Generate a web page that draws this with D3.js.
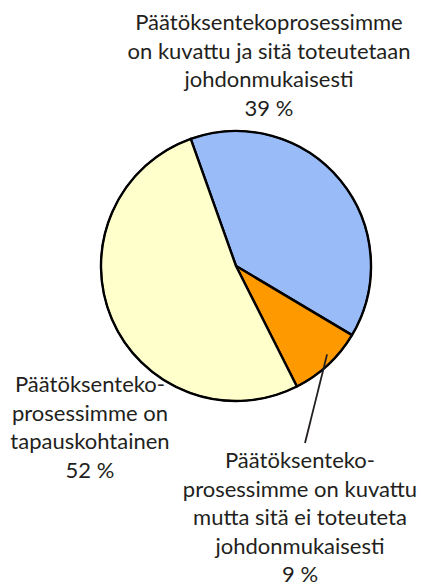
<!DOCTYPE html>
<html>
<head>
<meta charset="utf-8">
<script src="https://cdn.jsdelivr.net/npm/d3@7"></script>
<style>
  body { margin: 0; background: #fff; }
  svg text { font-family: Lato, "Open Sans", sans-serif; fill: #231f20; }
</style>
</head>
<body>
<div id="chart"></div>
<script>
// data
var labels = [
  ['Päätöksentekoprosessimme', 'on kuvattu ja sitä toteutetaan', 'johdonmukaisesti'],
  ['Päätöksenteko-', 'prosessimme on kuvattu', 'mutta sitä ei toteuteta', 'johdonmukaisesti'],
  ['Päätöksenteko-', 'prosessimme on', 'tapauskohtainen']
];
var values = [39, 9, 52];
var colors = ['#99bcf8', '#ff9900', '#ffffcc'];

var width = 421, height = 588;
var cx = 236, cy = 266, radius = 135;
var startDeg = -19.6;

// label anchors (centre x, first baseline y)
var labelPos = [[269, 30], [300, 468], [90, 392]];
var lineH = 28.5;

var svg = d3.select('#chart')
  .append('svg')
  .attr('width', width)
  .attr('height', height);

var start = startDeg * Math.PI / 180;
var pie = d3.pie()
  .sort(null)
  .value(function(d){ return d; })
  .startAngle(start)
  .endAngle(start + 2 * Math.PI);

var arc = d3.arc().innerRadius(0).outerRadius(radius);
var arcs = pie(values);

var g = svg.append('g').attr('transform', 'translate(' + cx + ',' + cy + ')');

g.selectAll('path.slice')
  .data(arcs)
  .enter()
  .append('path')
  .attr('class', 'slice')
  .attr('d', arc)
  .attr('fill', function(d, i){ return colors[i]; })
  .attr('stroke', '#000')
  .attr('stroke-width', 2.4)
  .attr('stroke-linejoin', 'round');

// outer rim a bit thinner
g.append('circle')
  .attr('r', radius)
  .attr('fill', 'none')
  .attr('stroke', '#000')
  .attr('stroke-width', 1.6);

// leader line for the small slice
var small = arcs[1];
var a = (small.startAngle + small.endAngle) / 2 - 0.05;
var p0 = d3.pointRadial(a, radius * 0.94);
g.append('line')
  .attr('x1', p0[0])
  .attr('y1', p0[1])
  .attr('x2', labelPos[1][0] + 5 - cx)
  .attr('y2', labelPos[1][1] - 25 - cy)
  .attr('stroke', '#231f20')
  .attr('stroke-width', 1.8);

// labels
labels.forEach(function(lines, i){
  var t = svg.append('text')
    .attr('text-anchor', 'middle')
    .attr('font-size', 22);
  lines.concat([values[i] + ' %']).forEach(function(s, k){
    t.append('tspan')
      .attr('x', labelPos[i][0])
      .attr('y', labelPos[i][1] + k * lineH)
      .text(s);
  });
});
</script>
</body>
</html>
